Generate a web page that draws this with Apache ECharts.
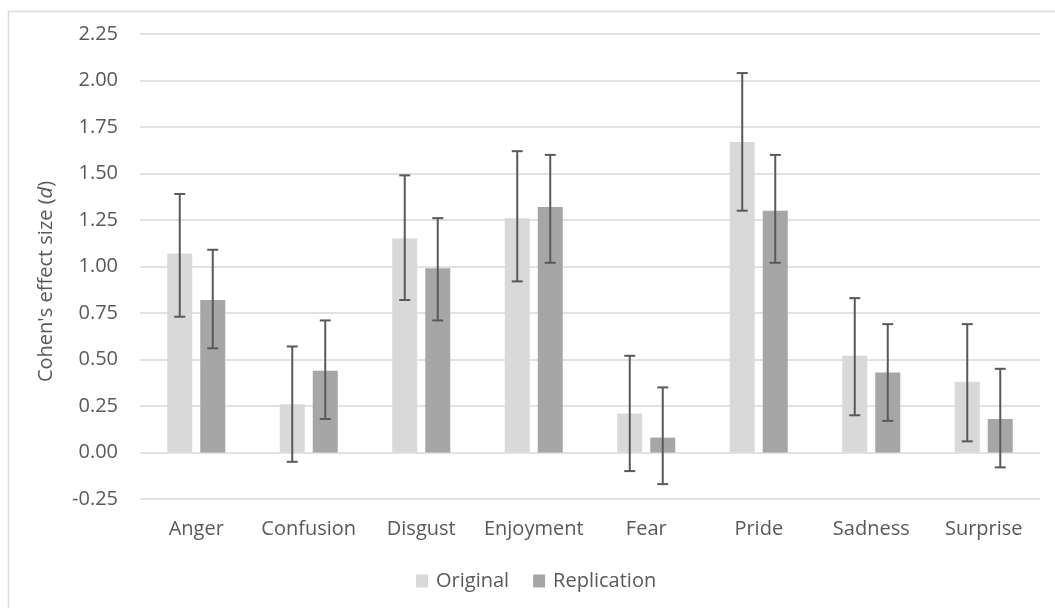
<!DOCTYPE html>
<html>
<head>
<meta charset="utf-8">
<script src="https://cdn.jsdelivr.net/npm/echarts@6/dist/echarts.min.js"></script>
<style>
html,body{margin:0;padding:0;background:#fff;}
#chart{width:1055px;height:608px;}
</style>
</head>
<body>
<div id="chart"></div>
<script>
const categories = ['Anger','Confusion','Disgust','Enjoyment','Fear','Pride','Sadness','Surprise'];
const original = [1.07, 0.26, 1.15, 1.26, 0.21, 1.67, 0.52, 0.38];
const replication = [0.82, 0.44, 0.99, 1.32, 0.08, 1.30, 0.43, 0.18];
const originalLow = [0.73, -0.05, 0.82, 0.92, -0.10, 1.30, 0.20, 0.06];
const originalHigh = [1.39, 0.57, 1.49, 1.62, 0.52, 2.04, 0.83, 0.69];
const replicationLow = [0.56, 0.18, 0.71, 1.02, -0.17, 1.02, 0.17, -0.08];
const replicationHigh = [1.09, 0.71, 1.26, 1.60, 0.35, 1.60, 0.69, 0.45];
const yTicks = {min: -0.25, max: 2.25, interval: 0.25};

const FONT = 'Open Sans';
const FS = 20;
const TXT = '#595959';
const BAR_W = 25;
const GAP_RATIO = 0.32;
const OFFSET = (BAR_W + BAR_W * GAP_RATIO) / 2;

function errSeries(name, low, high, sign) {
  return {
    type: 'custom',
    name: name,
    z: 5,
    silent: true,
    data: categories.map((c, i) => [i, low[i], high[i]]),
    renderItem: function (params, api) {
      const i = api.value(0);
      const x = api.coord([i, 0])[0] + sign * OFFSET;
      const yl = api.coord([i, api.value(1)])[1];
      const yh = api.coord([i, api.value(2)])[1];
      const hw = 5.5;
      const st = {stroke: '#595959', lineWidth: 2};
      return {
        type: 'group',
        children: [
          {type: 'line', shape: {x1: x, y1: yl, x2: x, y2: yh}, style: st},
          {type: 'line', shape: {x1: x - hw, y1: yl, x2: x + hw, y2: yl}, style: st},
          {type: 'line', shape: {x1: x - hw, y1: yh, x2: x + hw, y2: yh}, style: st}
        ]
      };
    }
  };
}

const chart = echarts.init(document.getElementById('chart'), null, {renderer: 'canvas'});
chart.setOption({
  backgroundColor: '#ffffff',
  animation: false,
  textStyle: {fontFamily: FONT},
  graphic: [{
    type: 'rect',
    left: 6, top: 9,
    shape: {x: 0, y: 0, width: 1100, height: 700},
    style: {fill: 'none', stroke: '#d9d9d9', lineWidth: 1.5},
    silent: true
  }],
  grid: {left: 140, right: 15, top: 34, bottom: 109},
  legend: {
    data: ['Original', 'Replication'],
    left: 411, top: 566,
    itemWidth: 12, itemHeight: 13, itemGap: 24,
    icon: 'rect',
    textStyle: {color: TXT, fontSize: FS, fontFamily: FONT, padding: [0, 0, 0, 3]}
  },
  xAxis: {
    type: 'category',
    data: categories,
    axisLine: {show: false, onZero: false},
    axisTick: {show: false},
    axisLabel: {color: TXT, fontSize: FS, fontFamily: FONT, margin: 20, interval: 0},
    splitLine: {show: false}
  },
  yAxis: {
    type: 'value',
    min: yTicks.min, max: yTicks.max, interval: yTicks.interval,
    axisLine: {show: false},
    axisTick: {show: false},
    axisLabel: {color: TXT, fontSize: FS, fontFamily: FONT, margin: 22,
      formatter: v => v.toFixed(2)},
    splitLine: {lineStyle: {color: '#d9d9d9', width: 1.5}},
    name: "Cohen's effect size ({i|d})",
    nameLocation: 'middle',
    nameGap: 84,
    nameRotate: 90,
    nameTextStyle: {color: TXT, fontSize: FS, fontFamily: FONT, padding: [0, 30, 0, 0],
      rich: {i: {fontStyle: 'italic', color: TXT, fontSize: FS, fontFamily: FONT}}}
  },
  series: [
    {name: 'Original', type: 'bar', data: original, barWidth: BAR_W, barGap: (GAP_RATIO * 100) + '%',
      itemStyle: {color: '#d9d9d9'}},
    {name: 'Replication', type: 'bar', data: replication, barWidth: BAR_W,
      itemStyle: {color: '#a6a6a6'}},
    errSeries('origErr', originalLow, originalHigh, -1),
    errSeries('repErr', replicationLow, replicationHigh, 1)
  ]
});
</script>
</body>
</html>
